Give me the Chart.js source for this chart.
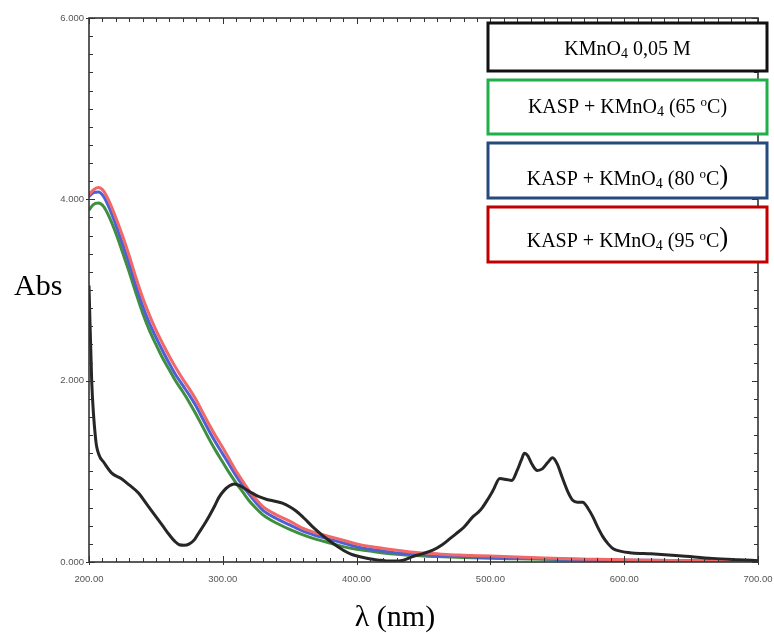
<!DOCTYPE html>
<html>
<head>
<meta charset="utf-8">
<script src="https://cdn.jsdelivr.net/npm/chart.js@4/dist/chart.umd.min.js"></script>
<style>
html,body{margin:0;padding:0;background:#fff;}
#wrap{position:relative;width:774px;height:633px;}
</style>
</head>
<body>
<div id="wrap"><canvas id="c" width="774" height="633"></canvas></div>
<script>
// ---- data ----
const seriesNames = ["KMnO₄ 0,05 M", "KASP + KMnO₄ (65 ºC)", "KASP + KMnO₄ (80 ºC)", "KASP + KMnO₄ (95 ºC)"];

const blackWl = [200,202,205,207.5,211,217,224,230,237,243,250,255,260,264,267.5,271,275,279,282,286,290,294,297,301,305,308.5,313,317.5,322,327,333,339,344.5,350,355,361,367,374,382,390,397,405,412,417,422,428,435,442,449,457,464,470,475,480,487,491,494,498,502,507,512,516,520,523,525.5,528,531,535,539,543,546.5,550,554,558,561.5,565,569,573,576.5,580,584,588,591.5,597,606,620,641,666,685,700];
const blackAbs = [3.05,2.0,1.35,1.18,1.10,0.98,0.92,0.85,0.76,0.64,0.50,0.40,0.30,0.23,0.19,0.185,0.20,0.25,0.32,0.41,0.51,0.62,0.71,0.79,0.84,0.86,0.84,0.80,0.76,0.72,0.69,0.67,0.65,0.61,0.56,0.48,0.39,0.30,0.21,0.13,0.08,0.05,0.03,0.02,0.012,0.01,0.02,0.06,0.09,0.13,0.19,0.26,0.32,0.38,0.50,0.55,0.60,0.69,0.79,0.92,0.91,0.90,1.01,1.12,1.20,1.17,1.08,1.01,1.03,1.10,1.15,1.08,0.92,0.77,0.68,0.66,0.66,0.59,0.50,0.39,0.28,0.20,0.15,0.12,0.10,0.09,0.07,0.04,0.025,0.015];

const colWl = [200,203,207,211,215,220,225,230,235,240,245,250,255,260,265,270,275,280,285,290,295,300,305,310,315,320,325,330,340,350,360,370,380,390,400,410,420,430,440,450,460,470,480,500,520,540,560,580,600,620,650,700];
const green65 = [3.88,3.94,3.96,3.92,3.81,3.63,3.42,3.20,2.97,2.75,2.56,2.40,2.25,2.12,1.99,1.88,1.76,1.63,1.49,1.35,1.22,1.10,0.98,0.87,0.77,0.67,0.59,0.52,0.43,0.36,0.30,0.25,0.21,0.17,0.14,0.12,0.10,0.085,0.075,0.065,0.06,0.055,0.05,0.04,0.035,0.03,0.025,0.02,0.018,0.015,0.012,0.01];
const blue80 = [4.03,4.07,4.08,4.03,3.91,3.72,3.51,3.29,3.05,2.83,2.64,2.48,2.33,2.19,2.06,1.95,1.84,1.72,1.58,1.44,1.31,1.19,1.07,0.95,0.84,0.74,0.65,0.57,0.48,0.41,0.34,0.29,0.25,0.21,0.17,0.14,0.12,0.10,0.09,0.08,0.07,0.065,0.06,0.05,0.045,0.035,0.03,0.025,0.02,0.018,0.013,0.01];
const red95 = [4.05,4.10,4.13,4.09,3.98,3.80,3.60,3.38,3.14,2.92,2.73,2.56,2.41,2.27,2.14,2.02,1.91,1.79,1.65,1.51,1.38,1.26,1.13,1.00,0.89,0.78,0.69,0.61,0.52,0.45,0.37,0.32,0.28,0.24,0.20,0.17,0.15,0.13,0.11,0.10,0.09,0.08,0.075,0.065,0.055,0.045,0.035,0.03,0.025,0.02,0.015,0.01];

const xTickValues = [200,300,400,500,600,700];
const yTickValues = [0,2,4,6];

function pts(xs, ys){ return xs.map((x,i)=>({x:x, y:ys[i]})); }

const frameColor = '#333';

const decor = {
  id:'decor',
  afterDatasetsDraw(chart){
    const ctx = chart.ctx, a = chart.chartArea;
    const xs = chart.scales.x, ys = chart.scales.y;
    ctx.save();
    // frame
    ctx.strokeStyle = frameColor; ctx.lineWidth = 1.6;
    ctx.strokeRect(a.left, a.top, a.right-a.left, a.bottom-a.top);
    // ticks
    ctx.lineWidth = 1;
    ctx.beginPath();
    for (let v = 200; v <= 700; v += 10){
      const px = Math.round(xs.getPixelForValue(v))+0.5;
      const major = v % 100 === 0;
      ctx.moveTo(px, a.bottom + (major?3:0)); ctx.lineTo(px, a.bottom - (major?6:4));
      ctx.moveTo(px, a.top); ctx.lineTo(px, a.top + (major?6:4));
    }
    for (let k = 0; k <= 30; k++){
      const v = k*0.2;
      const py = Math.round(ys.getPixelForValue(v))+0.5;
      const major = k % 10 === 0;
      ctx.moveTo(a.left - (major?3:0), py); ctx.lineTo(a.left + (major?6:4), py);
      ctx.moveTo(a.right, py); ctx.lineTo(a.right - (major?6:4), py);
    }
    ctx.stroke();

    // axis titles
    ctx.fillStyle = '#000';
    ctx.font = '30px "Liberation Serif", "Times New Roman", serif';
    ctx.textBaseline = 'middle';
    ctx.textAlign = 'left';
    ctx.fillText('Abs', 14, 287);
    ctx.textAlign = 'center';
    ctx.fillText('λ (nm)', 395, 618);

    // legend boxes
    const boxes = [
      {y0:23, y1:71, color:'#111111', cy:48, parts:[['KMnO',0],['4',1],[' 0,05 M',0]]},
      {y0:80, y1:134, color:'#1fb04a', cy:106, parts:[['KASP + KMnO',0],['4',1],[' (65 ',0],['o',2],['C)',0]]},
      {y0:143, y1:198, color:'#274a7c', cy:178, parts:[['KASP + KMnO',0],['4',1],[' (80 ',0],['o',2],['C',0],[')',3]]},
      {y0:207, y1:262, color:'#c00000', cy:240, parts:[['KASP + KMnO',0],['4',1],[' (95 ',0],['o',2],['C',0],[')',3]]}
    ];
    const fam = '"Liberation Serif", "Times New Roman", serif';
    const fonts = ['20px '+fam, '14px '+fam, '13px '+fam, '27px '+fam];
    const dy = [0, 3, -7, -1];
    boxes.forEach(b=>{
      const x0 = 488, x1 = 767;
      ctx.fillStyle = '#fff';
      ctx.fillRect(x0, b.y0, x1-x0, b.y1-b.y0);
      ctx.strokeStyle = b.color; ctx.lineWidth = 3;
      ctx.strokeRect(x0, b.y0, x1-x0, b.y1-b.y0);
      let w = 0;
      b.parts.forEach(p=>{ ctx.font = fonts[p[1]]; w += ctx.measureText(p[0]).width; });
      let x = (x0+x1)/2 - w/2;
      ctx.fillStyle = '#000'; ctx.textAlign = 'left'; ctx.textBaseline = 'alphabetic';
      const base = b.cy + 7;
      b.parts.forEach(p=>{
        ctx.font = fonts[p[1]];
        ctx.fillText(p[0], x, base + dy[p[1]]);
        x += ctx.measureText(p[0]).width;
      });
    });
    ctx.restore();
  }
};

new Chart(document.getElementById('c'), {
  type:'line',
  data:{
    datasets:[
      {label:seriesNames[0], data:pts(blackWl, blackAbs), borderColor:'#262626', borderWidth:3, pointRadius:0, cubicInterpolationMode:'monotone', fill:false},
      {label:seriesNames[3], data:pts(colWl, red95), borderColor:'#f06868', borderWidth:3, pointRadius:0, cubicInterpolationMode:'monotone', fill:false},
      {label:seriesNames[2], data:pts(colWl, blue80), borderColor:'#4f5fd6', borderWidth:3, pointRadius:0, cubicInterpolationMode:'monotone', fill:false},
      {label:seriesNames[1], data:pts(colWl, green65), borderColor:'#3f8f3f', borderWidth:3, pointRadius:0, cubicInterpolationMode:'monotone', fill:false}
    ]
  },
  options:{
    responsive:false, maintainAspectRatio:false, animation:false,
    layout:{padding:{top:18, right:16, left:0, bottom:0}},
    plugins:{legend:{display:false}, tooltip:{enabled:false}, title:{display:false}},
    scales:{
      x:{type:'linear', min:200, max:700,
        afterBuildTicks(s){ s.ticks = xTickValues.map(v=>({value:v})); },
        afterFit(s){ s.height = 71; s.paddingLeft = 0; s.paddingRight = 0; },
        grid:{display:false, drawTicks:false},
        border:{display:false},
        ticks:{padding:12, color:'#555', font:{family:'"Liberation Sans", Arial, sans-serif', size:9.5}, maxRotation:0,
          callback:(v)=>Number(v).toFixed(2)}
      },
      y:{type:'linear', min:0, max:6,
        afterBuildTicks(s){ s.ticks = yTickValues.map(v=>({value:v})); },
        afterFit(s){ s.width = 89; s.paddingTop = 0; s.paddingBottom = 0; },
        grid:{display:false, drawTicks:false},
        border:{display:false},
        ticks:{padding:5, color:'#555', font:{family:'"Liberation Sans", Arial, sans-serif', size:9.5},
          callback:(v)=>Number(v).toFixed(3)}
      }
    }
  },
  plugins:[decor]
});
</script>
</body>
</html>
